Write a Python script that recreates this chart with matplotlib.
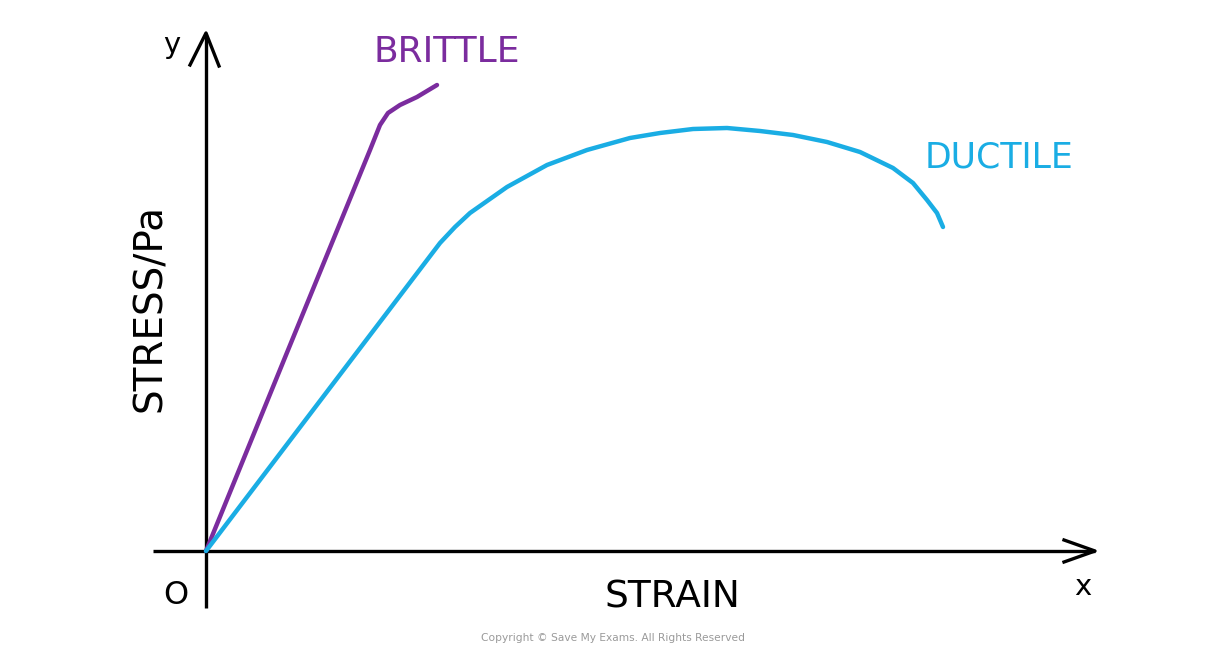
# stress-strain sketch: brittle vs ductile material
import matplotlib.pyplot as plt

# strain / stress in arbitrary units (origin at 0,0)
brittle_strain = [0.0, 0.80, 1.64, 1.74, 1.82, 1.94, 2.11, 2.31]
brittle_stress = [0.0, 1.96, 4.01, 4.26, 4.38, 4.46, 4.54, 4.66]

ductile_strain = [0.0, 1.20, 2.34, 2.49, 2.64, 3.01, 3.41, 3.81, 4.24, 4.54, 4.87,
                  5.21, 5.54, 5.87, 6.21, 6.54, 6.87, 7.07, 7.21, 7.31, 7.37]
ductile_stress = [0.0, 1.58, 3.08, 3.24, 3.38, 3.64, 3.86, 4.01, 4.13, 4.18, 4.22,
                  4.23, 4.20, 4.16, 4.09, 3.99, 3.83, 3.68, 3.51, 3.38, 3.24]

PURPLE = "#7b2c9e"
BLUE = "#1aade4"

fig = plt.figure(figsize=(12.26, 6.63), dpi=100)
ax = fig.add_axes([0, 0, 1, 1])
ax.set_xlim(-2.06, 10.20)
ax.set_ylim(-1.12, 5.51)
ax.axis("off")

# axes drawn by hand, with open arrow heads
ax.plot([0, 0], [-0.57, 5.16], color="black", lw=2.4, solid_capstyle="butt")
ax.plot([-0.16, 0, 0.13], [4.86, 5.18, 4.85], color="black", lw=2.4)
ax.plot([-0.53, 8.89], [0, 0], color="black", lw=2.4, solid_capstyle="butt")
ax.plot([8.58, 8.89, 8.58], [0.11, 0, -0.11], color="black", lw=2.4)

ax.plot(brittle_strain, brittle_stress, color=PURPLE, lw=3.2,
        solid_capstyle="round", solid_joinstyle="round")
ax.plot(ductile_strain, ductile_stress, color=BLUE, lw=3.2,
        solid_capstyle="round", solid_joinstyle="round")

font = "DejaVu Sans"
ax.text(2.41, 4.99, "BRITTLE", color=PURPLE, fontsize=26, ha="center", va="center", family=font)
ax.text(7.93, 3.94, "DUCTILE", color=BLUE, fontsize=25, ha="center", va="center", family=font)
ax.text(-0.56, 2.43, "STRESS/Pa", color="black", fontsize=28, rotation=90,
        ha="center", va="center", family=font)
ax.text(4.66, -0.47, "STRAIN", color="black", fontsize=27, ha="center", va="center", family=font)
ax.text(-0.34, 5.06, "y", color="black", fontsize=21, ha="center", va="center", family=font)
ax.text(8.77, -0.36, "x", color="black", fontsize=21, ha="center", va="center", family=font)
ax.text(-0.30, -0.44, "O", color="black", fontsize=23, ha="center", va="center", family=font)
ax.text(4.07, -0.87, "Copyright © Save My Exams. All Rights Reserved", color="#9a9a9a",
        fontsize=7.7, ha="center", va="center", family=font)

fig.savefig("out.png", dpi=100)
